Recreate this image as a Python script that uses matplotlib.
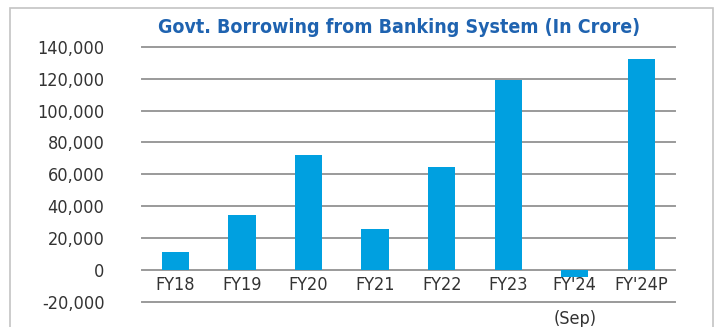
import matplotlib
matplotlib.use("Agg")
import matplotlib.pyplot as plt
from matplotlib.patches import Rectangle

categories = ["FY18", "FY19", "FY20", "FY21", "FY22", "FY23", "FY'24\n(Sep)", "FY'24P"]
values = [11700, 34700, 72000, 25900, 64500, 119000, -4000, 132000]
yticks = [-20000, 0, 20000, 40000, 60000, 80000, 100000, 120000, 140000]

plt.rcParams['font.family'] = ['DejaVu Sans']
plt.rcParams['font.stretch'] = 'condensed'

fig = plt.figure(figsize=(7.17, 3.27), dpi=100)
# light gray frame around chart
fig.patches.append(Rectangle((0.014, -0.05), 0.98, 1.025, transform=fig.transFigure,
                             fill=False, edgecolor="#c4c4c4", linewidth=1.2))

ax = fig.add_axes([0.198, 0.0755, 0.743, 0.782])
x = range(len(categories))
ax.bar(x, values, width=0.41, color="#00a0e0", zorder=3)

ax.set_ylim(-20000, 140000)
ax.set_xlim(-0.5, len(categories) - 0.5)
ax.set_yticks(yticks)
ax.set_yticklabels([f"{v:,}" for v in yticks])
for v in yticks:
    ax.axhline(v, color="#9a9a9a", linewidth=1.4, zorder=1, clip_on=False)

ax.set_xticks(list(x))
ax.set_xticklabels(categories)
for s in ax.spines.values():
    s.set_visible(False)
ax.spines['bottom'].set_position(('data', 0))
ax.tick_params(axis='both', length=0, labelsize=13, colors="#333333")
ax.tick_params(axis='y', pad=27)
ax.tick_params(axis='x', pad=4)
for lbl in ax.get_xticklabels():
    lbl.set_linespacing(2.12)

fig.text(0.557, 0.915, "Govt. Borrowing from Banking System (In Crore)", ha="center", va="center",
         fontsize=14, fontweight="bold", color="#1f63b0")

fig.savefig("out.png", dpi=100)
